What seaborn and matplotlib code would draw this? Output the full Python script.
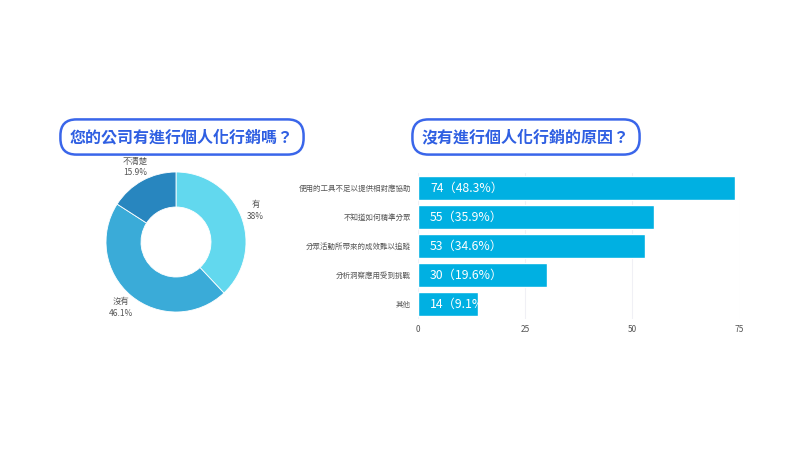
import matplotlib.pyplot as plt
import seaborn as sns
import pandas as pd

# data
pie_labels = ["有", "沒有", "不清楚"]
pie_values = [38, 46.1, 15.9]
pie_colors = ["#62d8ee", "#3aabd8", "#2886bf"]

reasons = ["使用的工具不足以提供相對應協助", "不知道如何精準分眾", "分眾活動所帶來的成效難以追蹤",
           "分析洞察應用受到挑戰", "其他"]
counts = [74, 55, 53, 30, 14]
shares = [48.3, 35.9, 34.6, 19.6, 9.1]

sns.set_theme(style="white")
plt.rcParams["font.family"] = ["Noto Sans CJK TC", "DejaVu Sans"]

W, H = 800, 450
fig = plt.figure(figsize=(8, 4.5), dpi=100)
fig.patch.set_facecolor("white")


def px_axes(x0, y0, x1, y1):
    # pixel box (top-left origin) -> figure axes
    return fig.add_axes([x0 / W, 1 - y1 / H, (x1 - x0) / W, (y1 - y0) / H])


# titles
title_kw = dict(ha="center", va="center", fontsize=11.5, fontweight="bold", color="#2f5fe2",
                bbox=dict(boxstyle="round,pad=0.6,rounding_size=1.0", fc="white", ec="#3a66ea", lw=1.8))
fig.text(182 / W, 1 - 137 / H, "您的公司有進行個人化行銷嗎？", **title_kw)
fig.text(526 / W, 1 - 137 / H, "沒有進行個人化行銷的原因？", **title_kw)

# donut
ax1 = px_axes(176 - 140, 242 - 140, 176 + 140, 242 + 140)
labels = [f"{l}\n{v:g}%" for l, v in zip(pie_labels, pie_values)]
ax1.pie(pie_values, labels=labels, colors=pie_colors, startangle=90, counterclock=False,
        radius=1, labeldistance=1.22,
        wedgeprops=dict(width=0.5, edgecolor="white", linewidth=0.6),
        textprops=dict(fontsize=6, color="#555555", ha="center", va="center", linespacing=1.35))
ax1.set_xlim(-2, 2)
ax1.set_ylim(-2, 2)
ax1.set_aspect("equal")
ax1.axis("off")

# bars
ax2 = px_axes(418, 173.5, 739.5, 318.5)
df = pd.DataFrame({"reason": reasons, "count": counts, "share": shares})
sns.barplot(data=df, x="count", y="reason", color="#00b0e2", width=0.86, saturation=1, ax=ax2)
ax2.set_xlim(0, 75)
ax2.set_xticks([0, 25, 50, 75])
ax2.set_xlabel("")
ax2.set_ylabel("")
ax2.grid(axis="x", color="#f0f0f5", linewidth=0.8)
ax2.set_axisbelow(True)
for s in ax2.spines.values():
    s.set_visible(False)
ax2.tick_params(axis="x", labelsize=6, labelcolor="#555555", length=0, pad=5)
ax2.tick_params(axis="y", labelsize=5.4, labelcolor="#555555", length=0, pad=5)

for bar, c, p in zip(ax2.patches, counts, shares):
    t = ax2.text(2.8, bar.get_y() + bar.get_height() / 2, f"{c}（{p}%）", color="white",
                 fontsize=8.8, va="center", ha="left", fontweight="medium")
    t.set_clip_path(bar)

fig.savefig("out.png", dpi=100, facecolor="white")
